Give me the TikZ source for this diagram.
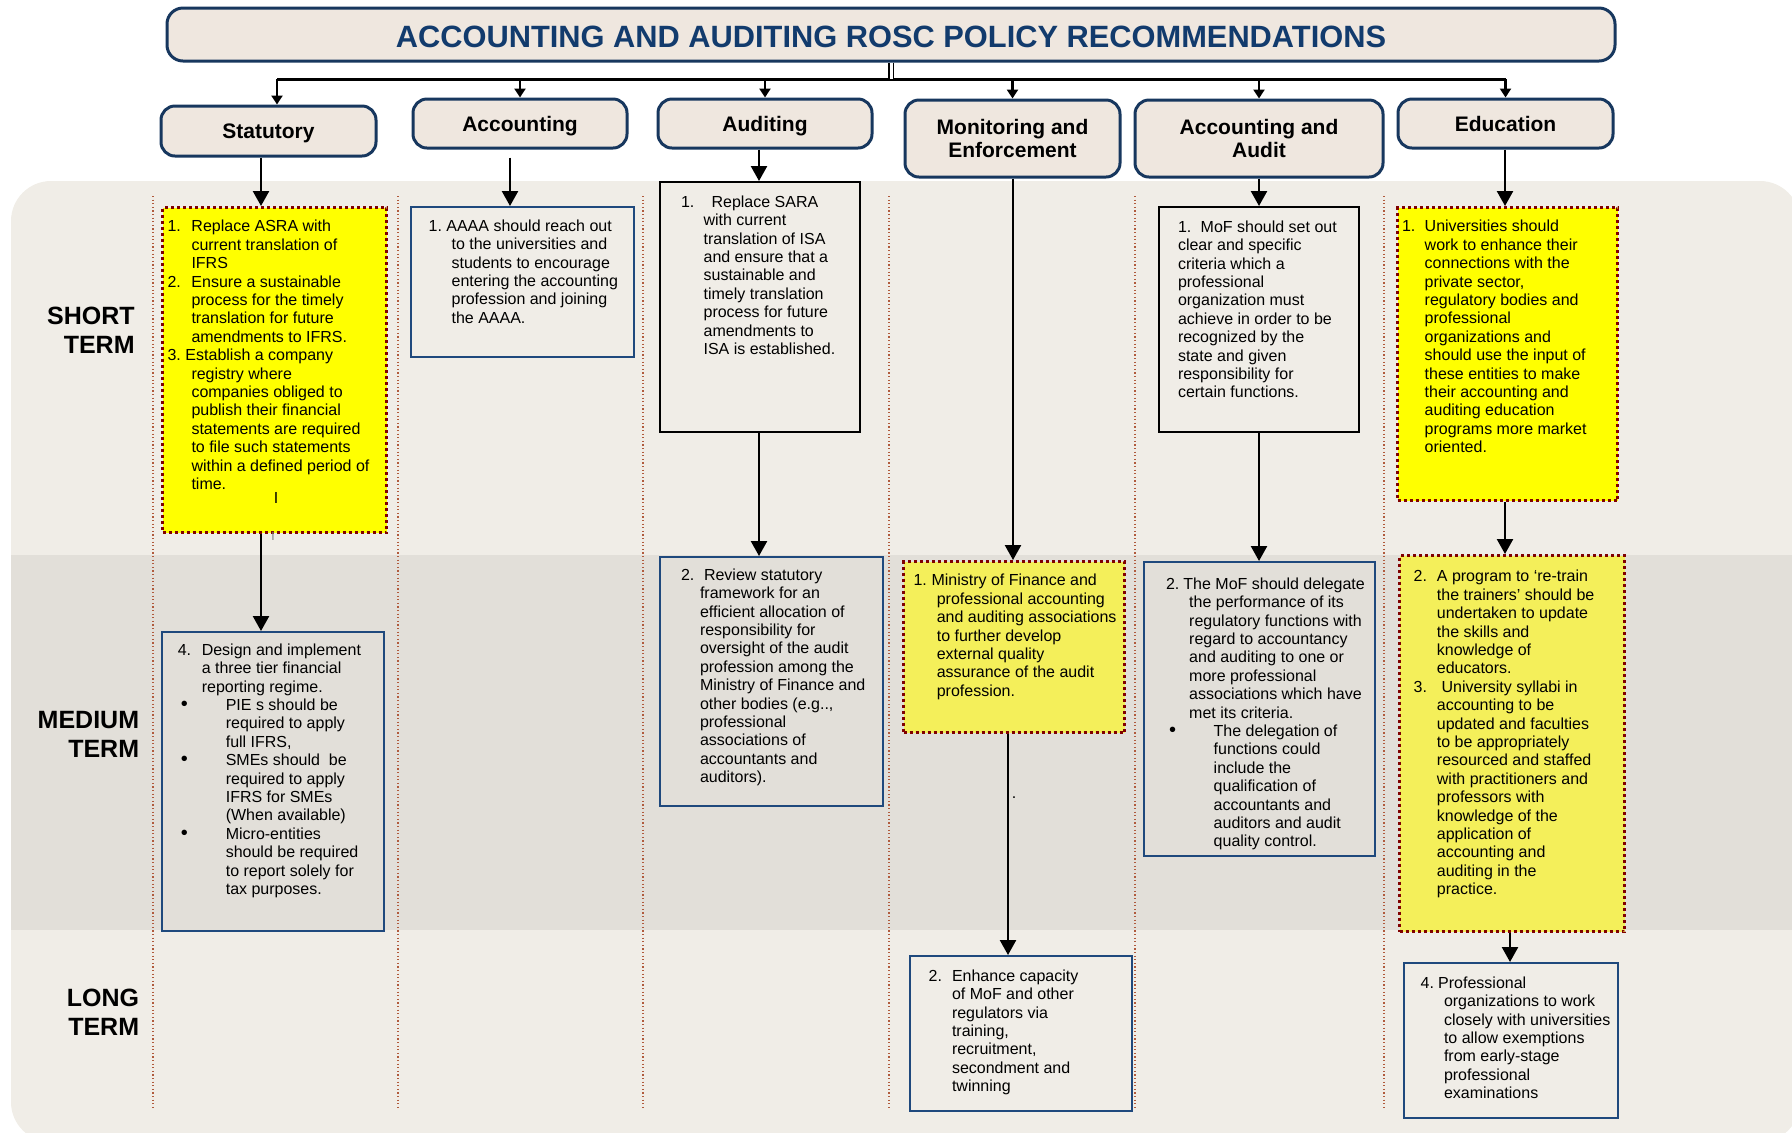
\documentclass[tikz,border=0pt]{standalone}
\usepackage{fontspec}
\setmainfont{Liberation Sans}
\usetikzlibrary{arrows.meta}

\definecolor{bglight}{HTML}{F0EDE7}
\definecolor{bgmid}{HTML}{E2DFD9}
\definecolor{hdrfill}{HTML}{EFE7DF}
\definecolor{hdrblue}{HTML}{17375E}
\definecolor{titleblue}{HTML}{123B6D}
\definecolor{boxblue}{HTML}{1F497D}
\definecolor{hotyellow}{HTML}{FFFF00}
\definecolor{softyellow}{HTML}{F4EF5A}
\definecolor{dotred}{HTML}{800000}
\definecolor{lanered}{HTML}{B05A3C}

% numbered / bulleted line: label width, hang indent, label, text
\newcommand{\recitem}[4]{\par\hangindent=#2\hangafter=1\noindent\makebox[#1][l]{#3}#4\par}
% box body: width px, height px, left pad pt, top pad pt, text
\newcommand{\recbody}[5]{\begin{minipage}[c][\dimexpr #2pt/2\relax][t]{\dimexpr #1pt/2\relax}%
\fontsize{8}{9.2}\selectfont\leftskip=#3pt\rightskip=-40pt plus 1fil\parfillskip=0pt plus 1fil\parindent=0pt%
\vspace*{#4pt}#5\end{minipage}}
\newcommand{\recbullet}{\hspace*{1.5pt}\scalebox{1.25}{\textbullet}}

\begin{document}
\begin{tikzpicture}[x=0.5pt,y=-0.5pt,
  hdr/.style={draw=hdrblue, line width=1.5pt, fill=hdrfill, rounded corners=7pt, align=center,
    font=\fontsize{10.5}{11.65}\selectfont\bfseries},
  onehdr/.style={hdr, text depth=0pt},
  recbox/.style={anchor=north west, inner sep=0pt, line width=1pt},
  plainbox/.style={recbox, draw=black},
  bluebox/.style={recbox, draw=boxblue},
  hotbox/.style={recbox, draw=dotred, line width=1.5pt, dash pattern=on 1.5pt off 1.5pt, fill=hotyellow},
  softbox/.style={hotbox, fill=softyellow},
  flow/.style={line width=1.2pt, -{Triangle[length=7.5pt,width=8pt]}},
  stem/.style={line width=1.2pt, -{Triangle[length=4.5pt,width=5.5pt]}},
  lanesep/.style={draw=lanered, line width=0.6pt, dash pattern=on 0.6pt off 1.2pt},
  termlabel/.style={anchor=east, align=right, inner sep=0pt, font=\fontsize{12.5}{14.5}\selectfont\bfseries},
  stray/.style={inner sep=0pt, font=\fontsize{8}{9}\selectfont}]

\useasboundingbox (0,0) rectangle (1792,1132);

% bands
\begin{scope}
  \clip (0,0) rectangle (1792,1132);
  \fill[bglight, rounded corners=20pt] (11,181) rectangle (1800,1142);
  \fill[bgmid] (11,555) rectangle (1800,930);
\end{scope}
\foreach \sx in {153,398,643,889,1135,1384}
  \draw[lanesep] (\sx,196) -- (\sx,1110);

% row labels
\node[termlabel] (short) at (135,330.5) {SHORT\\TERM};
\node[termlabel] (medium) at (139.5,734) {MEDIUM\\TERM};
\node[termlabel] (long) at (139.5,1012) {LONG\\TERM};

% title and headings
\node[hdr, rounded corners=8pt, minimum width=724pt, minimum height=26.5pt, text=titleblue,
  text height=13.3pt, text depth=0pt,
  font=\fontsize{15.4}{18}\selectfont\bfseries] (title) at (891,34.5)
  {ACCOUNTING AND AUDITING ROSC POLICY RECOMMENDATIONS};
\node[onehdr, minimum width=107.5pt, minimum height=25pt] (stat) at (268.5,131) {Statutory};
\node[onehdr, minimum width=107pt, minimum height=24.5pt] (acc) at (520,123.5) {Accounting};
\node[onehdr, minimum width=107pt, minimum height=24.5pt] (aud) at (765,123.5) {Auditing};
\node[hdr, minimum width=107.5pt, minimum height=38.5pt] (mon) at (1012.5,138.5) {Monitoring and\\Enforcement};
\node[hdr, minimum width=124pt, minimum height=38.5pt] (aa) at (1259,138.5) {Accounting and\\Audit};
\node[onehdr, minimum width=107.5pt, minimum height=24.5pt] (edu) at (1505.5,123.5) {Education};

\coordinate (barL) at (277,79);
\coordinate (barR) at (edu.north |- barL);
\draw[line width=1.5pt] (barL) -- (barR);
\draw[double, double distance=1.5pt, line width=0.7pt] (title.south) -- (title.south |- barL);
\draw[stem] (barL) -- (barL |- stat.north);
\draw[stem] (acc.north |- barL) -- (acc.north);
\draw[stem] (aud.north |- barL) -- (aud.north);
\draw[stem] (mon.north |- barL) -- (mon.north);
\draw[stem] (aa.north |- barL) -- (aa.north);
\draw[stem] (barR) -- (edu.north);

% statutory
\node[hotbox] (s1) at (161,206) {\recbody{224}{325}{2.5}{6.35}{%
  \recitem{12pt}{12pt}{1.}{Replace ASRA with\\current translation of\\IFRS}%
  \recitem{12pt}{12pt}{2.}{Ensure a sustainable\\process for the timely\\translation for future\\amendments to IFRS.}%
  \recitem{9pt}{12pt}{3.}{Establish a company\\registry where\\companies obliged to\\publish their financial\\statements are required\\to file such statements\\within a defined period of\\time.}}};
\node[stray] (mark1) at (276,498) {I};
\node[stray, text=gray, font=\fontsize{6}{6}\selectfont] (mark2) at (273,536) {I};
\node[bluebox] (m1) at (161,631) {\recbody{222}{299}{7.9}{5.85}{%
  \recitem{12pt}{12pt}{4.}{Design and implement\\a three tier financial\\reporting regime.}%
  \recitem{24pt}{24pt}{\recbullet}{PIE s should be\\required to apply\\full IFRS,}%
  \recitem{24pt}{24pt}{\recbullet}{SMEs should\ \ be\\required to apply\\IFRS for SMEs\\(When available)}%
  \recitem{24pt}{24pt}{\recbullet}{Micro-entities\\should be required\\to report solely for\\tax purposes.}}};

% accounting
\node[bluebox] (a1) at (410,206) {\recbody{223}{150}{8.8}{6.35}{%
  \recitem{8.9pt}{11.5pt}{1.}{AAAA should reach out\\to the universities and\\students to encourage\\entering the accounting\\profession and joining\\the AAAA.}}};

% auditing
\node[plainbox] (au1) at (659,181) {\recbody{200}{250}{10.5}{6.85}{%
  \recitem{15.3pt}{11.3pt}{1.}{Replace SARA\\with current\\translation of ISA\\and ensure that a\\sustainable and\\timely translation\\process for future\\amendments to\\ISA is established.}}};
\node[bluebox] (au2) at (659,556) {\recbody{223}{249}{10.5}{5.85}{%
  \recitem{11.5pt}{9.5pt}{2.}{Review statutory\\framework for an\\efficient allocation of\\responsibility for\\oversight of the audit\\profession among the\\Ministry of Finance and\\other bodies (e.g..,\\professional\\associations of\\accountants and\\auditors).}}};

% monitoring and enforcement
\node[softbox] (mo1) at (902,560) {\recbody{221}{171}{5}{6.35}{%
  \recitem{9pt}{11.65pt}{1.}{Ministry of Finance and\\professional accounting\\and auditing associations\\to further develop\\external quality\\assurance of the audit\\profession.}}};
\node[stray] (mark3) at (1014,798) {.};
\node[bluebox] (mo2) at (909,955) {\recbody{222}{155}{9.35}{6.85}{%
  \recitem{11.65pt}{11.65pt}{2.}{Enhance capacity\\of MoF and other\\regulators via\\training,\\recruitment,\\secondment and\\twinning}}};

% accounting and audit
\node[plainbox] (aa1) at (1158,206) {\recbody{200}{225}{9.5}{6.85}{%
  \recitem{11.35pt}{0pt}{1.}{MoF should set out\\clear and specific\\criteria which a\\professional\\organization must\\achieve in order to be\\recognized by the\\state and given\\responsibility for\\certain functions.}}};
\node[bluebox] (aa2) at (1143,561) {\recbody{231}{294}{11}{7.85}{%
  \recitem{8.7pt}{11.6pt}{2.}{The MoF should delegate\\the performance of its\\regulatory functions with\\regard to accountancy\\and auditing to one or\\more professional\\associations which have\\met its criteria.}%
  \recitem{23.85pt}{23.85pt}{\recbullet}{The delegation of\\functions could\\include the\\qualification of\\accountants and\\auditors and audit\\quality control.}}};

% education
\node[hotbox] (e1) at (1396,206) {\recbody{220}{293}{2.25}{6.35}{%
  \recitem{11.35pt}{11.35pt}{1.}{Universities should\\work to enhance their\\connections with the\\private sector,\\regulatory bodies and\\professional\\organizations and\\should use the input of\\these entities to make\\their accounting and\\auditing education\\programs more market\\oriented.}}};
\node[softbox] (e2) at (1398,554) {\recbody{225}{376}{7.1}{7.35}{%
  \recitem{11.6pt}{11.6pt}{2.}{A program to ‘re-train\\the trainers’ should be\\undertaken to update\\the skills and\\knowledge of\\educators.}%
  \recitem{13.95pt}{11.6pt}{3.}{University syllabi in\\accounting to be\\updated and faculties\\to be appropriately\\resourced and staffed\\with practitioners and\\professors with\\knowledge of the\\application of\\accounting and\\auditing in the\\practice.}}};
\node[bluebox] (e3) at (1403,962) {\recbody{214}{155}{8.35}{6.85}{%
  \recitem{8.75pt}{11.65pt}{4.}{Professional\\organizations to work\\closely with universities\\to allow exemptions\\from early-stage\\professional\\examinations}}};

% column arrows
\coordinate (cS) at (261,0);
\coordinate (cA) at (510,0);
\coordinate (cU) at (759,0);
\coordinate (cM) at (1013,0);
\coordinate (cM2) at (1008,0);
\coordinate (cAA) at (1259,0);
\coordinate (cE) at (1505,0);
\coordinate (cE2) at (1510,0);
\draw[flow] (stat.south -| cS) -- (s1.north -| cS);
\draw[flow] (s1.south -| cS) -- (m1.north -| cS);
\draw[flow, shorten <=4pt] (acc.south -| cA) -- (a1.north -| cA);
\draw[flow] (aud.south -| cU) -- (au1.north -| cU);
\draw[flow] (au1.south -| cU) -- (au2.north -| cU);
\draw[flow] (mon.south -| cM) -- (mo1.north -| cM);
\draw[flow] (mo1.south -| cM2) -- (mo2.north -| cM2);
\draw[flow] (aa.south -| cAA) -- (aa1.north -| cAA);
\draw[flow] (aa1.south -| cAA) -- (aa2.north -| cAA);
\draw[flow] (edu.south -| cE) -- (e1.north -| cE);
\draw[flow] (e1.south -| cE) -- (e2.north -| cE);
\draw[flow] (e2.south -| cE2) -- (e3.north -| cE2);
\end{tikzpicture}
\end{document}
